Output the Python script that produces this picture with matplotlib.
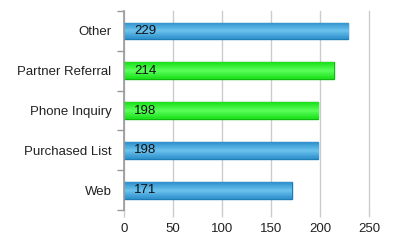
import matplotlib
matplotlib.use("Agg")
import matplotlib.pyplot as plt
import numpy as np
from matplotlib.colors import LinearSegmentedColormap

categories = ["Other", "Partner Referral", "Phone Inquiry", "Purchased List", "Web"]
values = [229, 214, 198, 198, 171]
series_colors = ["blue", "green", "green", "blue", "blue"]
x_ticks = [0, 50, 100, 150, 200, 250]

palette = {
    "blue": ("#2d8fcc", "#6cc3ee", "#1f7db5"),
    "green": ("#19e019", "#5cff5c", "#10b810"),
}

fig = plt.figure(figsize=(3.98, 2.48), dpi=100)
ax = fig.add_axes([0.3116, 0.153, 0.9271 - 0.3116, 0.9556 - 0.153])

n = len(categories)
ypos = np.arange(n)[::-1]
h = 0.42
for y, v, c in zip(ypos, values, series_colors):
    dark, light, edge = palette[c]
    bar = ax.barh(y, v, height=h, color=dark, edgecolor=edge, linewidth=1.0, zorder=3)[0]
    cmap = LinearSegmentedColormap.from_list("g", [dark, light, dark])
    grad = np.linspace(0, 1, 64).reshape(-1, 1)
    im = ax.imshow(grad, cmap=cmap, aspect="auto", extent=[0, v, y - h / 2, y + h / 2],
                   origin="lower", zorder=3.5, interpolation="bilinear")
    im.set_clip_path(bar)
    ax.text(10, y, str(v), va="center", ha="left", fontsize=9.5, color="#111111",
            family="Liberation Sans", zorder=5)

ax.set_xlim(0, 250)
ax.set_ylim(-0.5, n - 0.5)
ax.set_xticks(x_ticks)
ax.set_xticklabels([str(t) for t in x_ticks], family="Liberation Sans", fontsize=9.5, color="#222222")
ax.set_yticks(ypos)
ax.set_yticklabels(categories, family="Liberation Sans", fontsize=9.5, color="#222222")
ax.set_yticks(np.arange(-0.5, n, 1.0), minor=True)
ax.tick_params(axis="y", which="major", length=0, pad=9)
ax.tick_params(axis="y", which="minor", length=5, color="#999999", width=1)
ax.tick_params(axis="x", which="major", length=5, color="#cccccc", width=1, pad=4)

ax.grid(axis="x", color="#cccccc", linewidth=1, zorder=0)
for gl in ax.xaxis.get_gridlines():
    gl.set_clip_on(False)
for s in ["top", "right", "bottom"]:
    ax.spines[s].set_visible(False)
ax.spines["left"].set_color("#999999")
ax.spines["left"].set_linewidth(1.2)
ax.spines["left"].set_zorder(6)

fig.savefig("out.png", dpi=100)
